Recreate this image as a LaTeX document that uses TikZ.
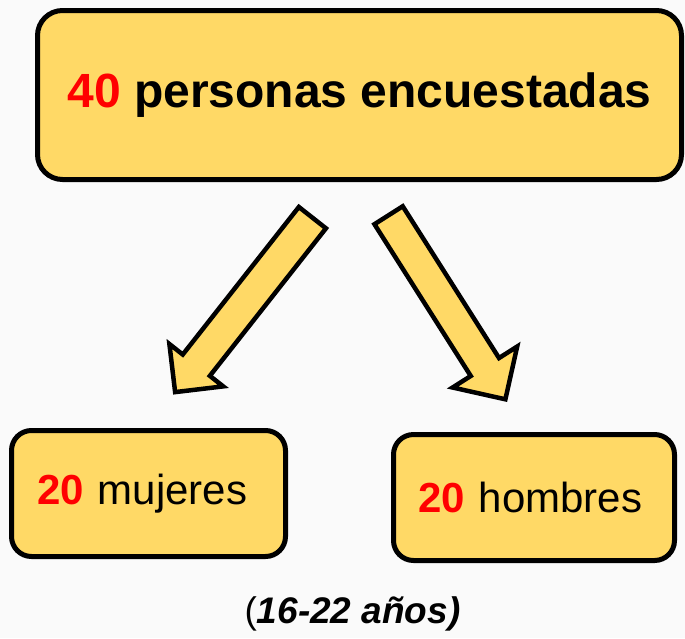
\documentclass[tikz,border=0pt]{standalone}
\usepackage{fontspec}
\setmainfont{Liberation Sans}
\usetikzlibrary{shapes.arrows}
\definecolor{boxfill}{RGB}{255,217,102}
\definecolor{numred}{RGB}{255,0,0}
\definecolor{pagebg}{RGB}{250,250,250}
\newcommand{\numtxt}[1]{{\bfseries\color{numred}#1}}
\begin{document}
\begin{tikzpicture}[x=1pt,y=1pt,
    topbox/.style={draw,line width=5pt,fill=boxfill,rounded corners=25pt,
        minimum width=644pt,minimum height=169pt,inner sep=0pt,
        font=\fontsize{48}{56}\selectfont\bfseries},
    subbox/.style={draw,line width=5pt,fill=boxfill,rounded corners=20pt,
        minimum height=126pt,inner ysep=0pt,align=left,
        font=\fontsize{42}{50}\selectfont},
    bigarrow/.style={single arrow,draw,line width=4.5pt,fill=boxfill,
        inner sep=0pt,minimum width=0pt,single arrow tip angle=90,
        single arrow head indent=0pt}]
  \useasboundingbox[fill=pagebg] (0,0) rectangle (685,-638);
  \node[topbox] (total) at (359.5,-95) {\numtxt{40} personas encuestadas};
  \node[subbox,inner xsep=25.5pt,text width=223pt] (mujeres) at (148.5,-493.5)
      {\numtxt{20} mujeres};
  \node[subbox,inner xsep=24.5pt,text width=232pt] (hombres) at (534,-497.5)
      {\numtxt{20} hombres};
  \node[bigarrow,inner ysep=15pt,minimum height=222pt,
      single arrow head extend=17pt,rotate=231.8] (toMujeres) at (249.1,-298.1) {};
  \node[bigarrow,inner ysep=14.5pt,minimum height=218pt,
      single arrow head extend=21.5pt,rotate=-57.6] (toHombres) at (442.5,-300.2) {};
  \node[font=\fontsize{37}{42}\selectfont] (edad) at (352.5,-614)
      {(\textbf{\textit{16-22 años)}}};
\end{tikzpicture}
\end{document}
